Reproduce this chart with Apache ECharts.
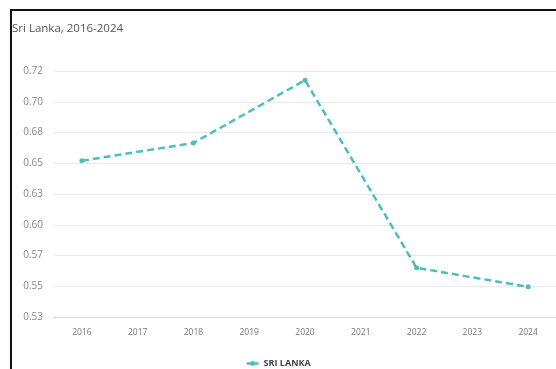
<!DOCTYPE html>
<html>
<head>
<meta charset="utf-8">
<script src="https://cdn.jsdelivr.net/npm/echarts@6/dist/echarts.min.js"></script>
<style>
  html, body { margin: 0; padding: 0; background: #fff; }
  #chart { width: 556px; height: 369px; }
  #frame { position: absolute; left: 10px; top: 9px; width: 600px; height: 400px;
           border-top: 2px solid #111; border-left: 2px solid #111; pointer-events: none; }
</style>
</head>
<body>
<div id="chart"></div>
<div id="frame"></div>
<script>
const years = ['2016', '2017', '2018', '2019', '2020', '2021', '2022', '2023', '2024'];
const sriLanka = [0.652, null, 0.6665, null, 0.7175, null, 0.565, null, 0.5495];
const yTickLabels = ['0.53', '0.55', '0.57', '0.60', '0.63', '0.65', '0.68', '0.70', '0.72'];
const seriesName = 'SRI LANKA';
const titleText = 'Sri Lanka, 2016-2024';

const chart = echarts.init(document.getElementById('chart'), null, { renderer: 'canvas' });
chart.setOption({
  animation: false,
  title: {
    text: titleText, left: 7, top: 18,
    textStyle: { fontFamily: 'Open Sans', fontSize: 11.5, fontWeight: 'normal', color: '#555' }
  },
  legend: {
    bottom: -4, left: 'center',
    itemWidth: 12, itemHeight: 6, itemGap: 8,
    lineStyle: { type: 'solid', width: 2.5 },
    textStyle: { fontFamily: 'Open Sans', fontSize: 9, fontWeight: 700, color: '#444' },
    data: [seriesName]
  },
  grid: { left: 54, right: 0, top: 71, bottom: 52, containLabel: false },
  xAxis: {
    type: 'category', data: years, boundaryGap: true,
    axisLine: { lineStyle: { color: '#d8d8d8' } },
    axisTick: { show: false },
    axisLabel: { fontFamily: 'Open Sans', fontSize: 8.5, color: '#777', margin: 11 }
  },
  yAxis: {
    type: 'value', min: 0.525, max: 0.725, interval: 0.025,
    axisLine: { show: false }, axisTick: { show: false },
    splitLine: { lineStyle: { color: '#e9e9e9' } },
    axisLabel: {
      fontFamily: 'Open Sans', fontSize: 10, color: '#888', margin: 11,
      formatter: (v, i) => yTickLabels[i]
    }
  },
  series: [{
    name: seriesName, type: 'line', data: sriLanka, connectNulls: true,
    symbol: 'circle', symbolSize: 5,
    itemStyle: { color: '#4dbfba' },
    lineStyle: { color: '#4dbfba', width: 2.5, type: [7, 4] }
  }]
});
</script>
</body>
</html>
